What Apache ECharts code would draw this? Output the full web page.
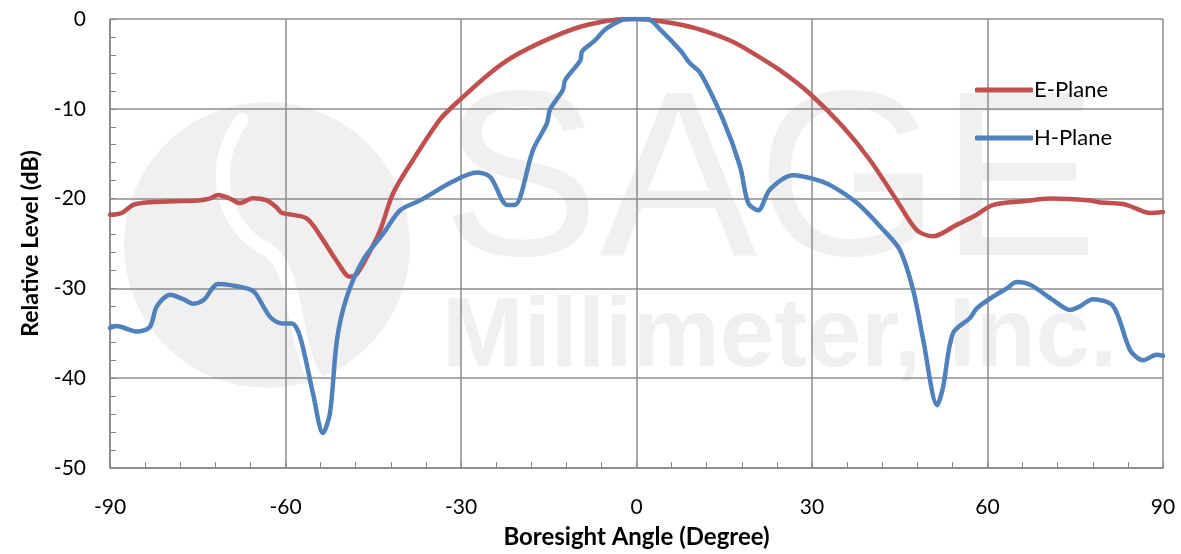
<!DOCTYPE html>
<html>
<head>
<meta charset="utf-8">
<script src="https://cdn.jsdelivr.net/npm/echarts@6/dist/echarts.min.js"></script>
<style>
html,body{margin:0;padding:0;background:#fff;}
#c{width:1181px;height:554px;}
</style>
</head>
<body>
<div id="c"></div>
<script>
// ---- data ----
const eAngles = [-90,-88,-86,-83,-79,-75,-73,-71.5,-69.5,-67.8,-65.6,-63.2,-61.5,-60.6,-56.4,-53.6,-51.2,-49,-47.8,-45.5,-43.8,-41.6,-38.2,-33.6,-30.2,-25,-21.1,-15.3,-9.6,-3.9,0,4.6,8,12,16,19.4,24.5,29.6,35.3,39.9,44.5,47.9,50.7,54.8,57.6,61,66.1,70.7,77.5,79,83.2,85,87.8,90];
const eValues = [-21.8,-21.6,-20.7,-20.4,-20.3,-20.2,-20.0,-19.6,-20.0,-20.5,-19.95,-20.2,-21.0,-21.6,-22.2,-24.6,-27.0,-28.7,-28.4,-25.8,-23.5,-19.4,-15.7,-11.2,-9.0,-6.0,-4.2,-2.3,-0.86,-0.1,0,-0.3,-0.7,-1.4,-2.4,-3.6,-5.7,-8.3,-12.0,-15.7,-20.2,-23.5,-24.2,-22.9,-22.0,-20.7,-20.3,-20.0,-20.2,-20.4,-20.6,-21.0,-21.6,-21.5];
const hAngles = [-90,-88.9,-85.4,-83.2,-82,-79.7,-77.5,-75.8,-74,-71.5,-66.6,-65.2,-62.6,-60.6,-58.9,-57.5,-55.3,-53.6,-52.4,-51.2,-49.5,-46.7,-43.3,-40.4,-37,-31.4,-27.3,-25,-22.1,-20.8,-17.7,-15.3,-14.8,-12.6,-12.2,-9.6,-9.3,-7.3,-5,-1.6,1.9,4.1,7.5,9.1,10.9,14.8,17.7,19.1,20.8,22.8,26.8,30.2,33.1,37.7,42.2,45,47.3,49,51.4,52.4,54.1,57,58.2,61,63.3,65,67.3,71.2,74.1,75.8,78,81.5,84.4,86.6,88.9,90];
const hValues = [-34.4,-34.2,-34.8,-34.3,-32.0,-30.7,-31.2,-31.7,-31.3,-29.5,-30.0,-30.5,-33.2,-33.9,-33.9,-35.4,-41.7,-46.1,-43.9,-35.7,-30.9,-26.8,-23.9,-21.3,-20.2,-18.1,-17.1,-17.6,-20.7,-20.7,-14.6,-11.6,-10.1,-7.9,-6.8,-4.6,-3.6,-2.5,-1.0,0,0,-1.2,-3.5,-4.9,-6.0,-11.2,-16.4,-20.5,-21.3,-19.0,-17.4,-17.8,-18.5,-20.5,-23.5,-25.7,-30.2,-35.7,-43.0,-41.0,-35.0,-33.3,-32.2,-30.9,-30.0,-29.3,-29.6,-31.3,-32.4,-32.0,-31.2,-32.0,-36.9,-38.0,-37.4,-37.5];
const seriesNames = ['E-Plane','H-Plane'];
const xTitle = 'Boresight Angle (Degree)';
const yTitle = 'Relative Level (dB)';
const watermark = ['SAGE', 'Millimeter, Inc.'];

const pair = (a, v) => a.map((x, i) => [x, v[i]]);
const FONT = 'Lato';
const chart = echarts.init(document.getElementById('c'), null, {renderer: 'canvas'});
const wm = '#f0f0f0';
chart.setOption({
  animation: false,
  backgroundColor: '#fff',
  grid: {left: 110, right: 18, top: 19, bottom: 86},
  graphic: [
    {type: 'circle', z: -10, shape: {cx: 267, cy: 245, r: 143}, style: {fill: wm}, silent: true},
    {type: 'bezierCurve', z: -9, shape: {x1: 242, y1: 120, cpx1: 205, cpy1: 170, cpx2: 225, cpy2: 230, x2: 268, y2: 250}, style: {stroke: '#fff', lineWidth: 14, lineCap: 'round', fill: null}, silent: true},
    {type: 'bezierCurve', z: -9, shape: {x1: 268, y1: 250, cpx1: 300, cpy1: 272, cpx2: 290, cpy2: 340, x2: 318, y2: 384}, style: {stroke: '#fff', lineWidth: 14, lineCap: 'round', fill: null}, silent: true},
    {type: 'text', z: -10, left: 442, top: 72, style: {text: watermark[0], font: '236px "Liberation Sans"', fill: wm}, silent: true},
    {type: 'text', z: -10, left: 442, top: 290, style: {text: watermark[1], font: 'bold 98px "Liberation Sans"', fill: wm}, silent: true}
  ],
  legend: {
    orient: 'vertical', left: 970, top: 74, itemGap: 26,
    icon: 'roundRect', itemWidth: 58, itemHeight: 5,
    textStyle: {fontFamily: FONT, fontSize: 22, color: '#000', padding: [0, 0, 0, -4]},
    data: seriesNames
  },
  xAxis: {
    type: 'value', min: -90, max: 90, interval: 30,
    name: xTitle, nameLocation: 'middle', nameGap: 57,
    nameTextStyle: {fontFamily: FONT, fontSize: 24, fontWeight: 'bold', color: '#000'},
    axisLine: {show: true, onZero: false, lineStyle: {color: '#868686', width: 1.5}},
    axisTick: {show: true, inside: true, length: 6, lineStyle: {color: '#868686'}},
    minorTick: {show: true, splitNumber: 5, length: 6, lineStyle: {color: '#868686'}},
    axisLabel: {fontFamily: FONT, fontSize: 21, color: '#000', margin: 29},
    splitLine: {show: true, lineStyle: {color: '#8c8c8c', width: 1.5}}
  },
  yAxis: {
    type: 'value', min: -50, max: 0, interval: 10,
    name: yTitle, nameLocation: 'middle', nameGap: 68, nameRotate: 90,
    nameTextStyle: {fontFamily: FONT, fontSize: 23, fontWeight: 'bold', color: '#000'},
    axisLine: {show: true, onZero: false, lineStyle: {color: '#868686', width: 1.5}},
    axisTick: {show: true, inside: true, length: 6, lineStyle: {color: '#868686'}},
    minorTick: {show: true, splitNumber: 5, length: 6, lineStyle: {color: '#868686'}},
    axisLabel: {fontFamily: FONT, fontSize: 21, color: '#000', margin: 24},
    splitLine: {show: true, lineStyle: {color: '#8c8c8c', width: 1.5}}
  },
  series: [
    {name: seriesNames[0], type: 'line', data: pair(eAngles, eValues), smooth: 0.3, symbol: 'none',
     lineStyle: {color: '#C0504D', width: 4.5, cap: 'round'}, itemStyle: {color: '#C0504D'}},
    {name: seriesNames[1], type: 'line', data: pair(hAngles, hValues), smooth: 0.3, symbol: 'none',
     lineStyle: {color: '#4F81BD', width: 4.5, cap: 'round'}, itemStyle: {color: '#4F81BD'}}
  ]
});
</script>
</body>
</html>
